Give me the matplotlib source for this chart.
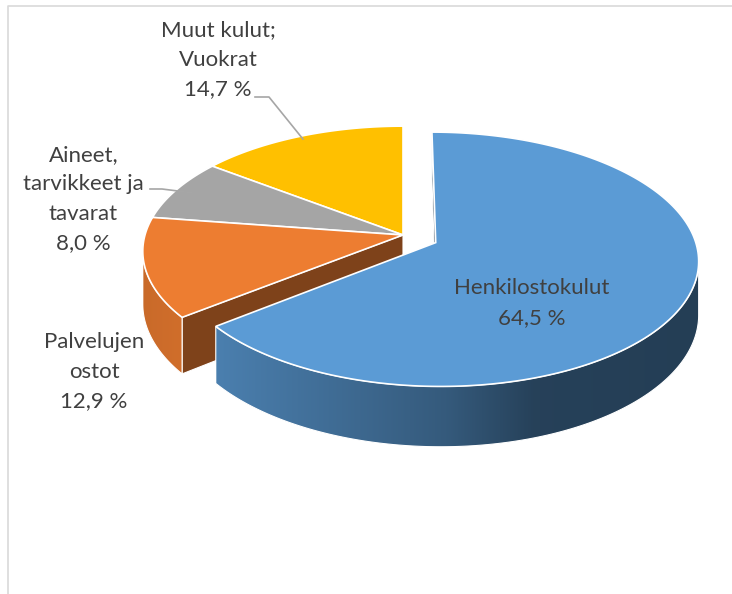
import numpy as np
import matplotlib
matplotlib.use("Agg")
import matplotlib.pyplot as plt
from matplotlib.patches import Polygon
from matplotlib.colors import to_rgb, LinearSegmentedColormap

# ---- data ----
categories = ["Henkilostokulut", "Palvelujen ostot", "Aineet, tarvikkeet ja tavarat", "Muut kulut; Vuokrat"]
label_lines = [["Henkilostokulut"], ["Palvelujen", "ostot"], ["Aineet,", "tarvikkeet ja", "tavarat"], ["Muut kulut;", "Vuokrat"]]
values = [64.5, 12.9, 8.0, 14.7]
value_labels = ["64,5 %", "12,9 %", "8,0 %", "14,7 %"]
colors = ["#5b9bd5", "#ed7d31", "#a5a5a5", "#ffc000"]
explode = [0.14, 0.0, 0.0, 0.0]

# ---- layout / style ----
W, H = 732, 594
fig = plt.figure(figsize=(7.32, 5.94), dpi=100)
ax = fig.add_axes([0, 0, 1, 1])
ax.set_xlim(0, W)
ax.set_ylim(H, 0)
ax.axis("off")

cx, cy = 403, 235
R, RS = 258, 123
K = 0.13
DEPTH = 52
CAM = 1.0 / K

# wall gradient stops (screen-x fraction across the wall, shade factor)
wall_grad = {
    0: [(0.0, 0.82), (0.28, 0.68), (0.48, 0.58), (0.66, 0.42), (1.0, 0.40)],
    1: [(0.0, 0.85), (1.0, 0.88)],
}


def proj(u, v, z=0.0):
    u = np.asarray(u, float)
    v = np.asarray(v, float)
    w = 1 + K * v
    return cx + R * u / w, cy - RS * v / w + DEPTH * z / w


def shade_rgb(col, f):
    r, g, b = to_rgb(col)
    return (r * f, g * f, b * f)


total = sum(values)
start = 90.0
slices = []
for i, val in enumerate(values):
    span = 360.0 * val / total
    t1 = np.radians(start)
    t2 = np.radians(start - span)
    mid = (t1 + t2) / 2
    ex, ey = explode[i] * np.cos(mid), explode[i] * np.sin(mid)
    slices.append(dict(t1=t1, t2=t2, mid=mid, ex=ex, ey=ey, color=colors[i]))
    start -= span

order = sorted(range(len(slices)), key=lambda i: -np.sin(slices[i]["mid"]))


def visible(nu, nv, pu, pv):
    return nu * (0 - pu) + nv * (-CAM - pv) > 0


# sides (walls + radial faces), back to front
for i in order:
    s = slices[i]
    ex, ey, col = s["ex"], s["ey"], s["color"]
    # radial faces
    for t, sign in ((s["t1"], 1), (s["t2"], -1)):
        nu, nv = (-np.sin(t), np.cos(t)) if sign == 1 else (np.sin(t), -np.cos(t))
        pu, pv = ex + 0.5 * np.cos(t), ey + 0.5 * np.sin(t)
        if visible(nu, nv, pu, pv):
            us = [ex, ex + np.cos(t), ex + np.cos(t), ex]
            vs = [ey, ey + np.sin(t), ey + np.sin(t), ey]
            xs, ys = proj(us, vs, np.array([0, 0, 1, 1]))
            f = 0.53 if i != 0 else 0.35
            ax.add_patch(Polygon(np.column_stack([xs, ys]), closed=True,
                                 facecolor=shade_rgb(col, f), edgecolor="white", lw=0.8, zorder=2))
    # outer wall (visible part)
    ts = np.linspace(s["t1"], s["t2"], 400)
    vis = np.array([visible(np.cos(t), np.sin(t), ex + np.cos(t), ey + np.sin(t)) for t in ts])
    if vis.sum() < 2:
        continue
    tv = ts[vis]
    xt, yt = proj(ex + np.cos(tv), ey + np.sin(tv), 0)
    xb, yb = proj(ex + np.cos(tv), ey + np.sin(tv), 1)
    pts = np.vstack([np.column_stack([xt, yt]), np.column_stack([xb, yb])[::-1]])
    poly = Polygon(pts, closed=True, facecolor="none", edgecolor="white", lw=0.8, zorder=3.1)
    ax.add_patch(poly)
    stops = wall_grad.get(i, [(0.0, 0.8), (1.0, 0.8)])
    base = np.array(to_rgb(col))
    cmap = LinearSegmentedColormap.from_list(
        "w%d" % i, [(p, tuple(base * f)) for p, f in stops])
    x0, x1 = pts[:, 0].min(), pts[:, 0].max()
    y0, y1 = pts[:, 1].min(), pts[:, 1].max()
    grad = np.linspace(0, 1, 256)[None, :]
    im = ax.imshow(grad, cmap=cmap, extent=[x0, x1, y1, y0], aspect="auto",
                   interpolation="bilinear", zorder=3)
    im.set_clip_path(poly)

ax.set_xlim(0, W)
ax.set_ylim(H, 0)

# top faces
for i in order:
    s = slices[i]
    ts = np.linspace(s["t1"], s["t2"], 200)
    us = np.concatenate([[s["ex"]], s["ex"] + np.cos(ts)])
    vs = np.concatenate([[s["ey"]], s["ey"] + np.sin(ts)])
    xs, ys = proj(us, vs)
    ax.add_patch(Polygon(np.column_stack([xs, ys]), closed=True,
                         facecolor=s["color"], edgecolor="white", lw=1.2, zorder=5))

# labels
txt_kw = dict(fontsize=16, color="#404040", family=["Lato", "DejaVu Sans"], ha="center", va="center", zorder=10)
label_pos = [(532, 303), (94, 372), (83.5, 199), (218, 60)]
line_gap = 29.5
for i in range(len(values)):
    lines = label_lines[i] + [value_labels[i]]
    x0, y0 = label_pos[i]
    n = len(lines)
    for j, ln in enumerate(lines):
        ax.text(x0, y0 + (j - (n - 1) / 2) * line_gap, ln, **txt_kw)


# leader lines
def anchor(i, r=0.97):
    s = slices[i]
    return proj(s["ex"] + r * np.cos(s["mid"]), s["ey"] + r * np.sin(s["mid"]))


ax_, ay_ = anchor(3)
ax.plot([255, 269, float(ax_)], [97, 97, float(ay_)], color="#a6a6a6", lw=1.2, zorder=9)
gx, gy = anchor(2, 0.93)
ax.plot([150, 162, float(gx)], [189, 189, float(gy)], color="#a6a6a6", lw=1.2, zorder=9)

# chart frame
ax.plot([7.5, 7.5, W + 5], [H + 5, 5.5, 5.5], color="#d9d9d9", lw=1.2, zorder=1)

fig.savefig("out.png", dpi=100, facecolor="white")
